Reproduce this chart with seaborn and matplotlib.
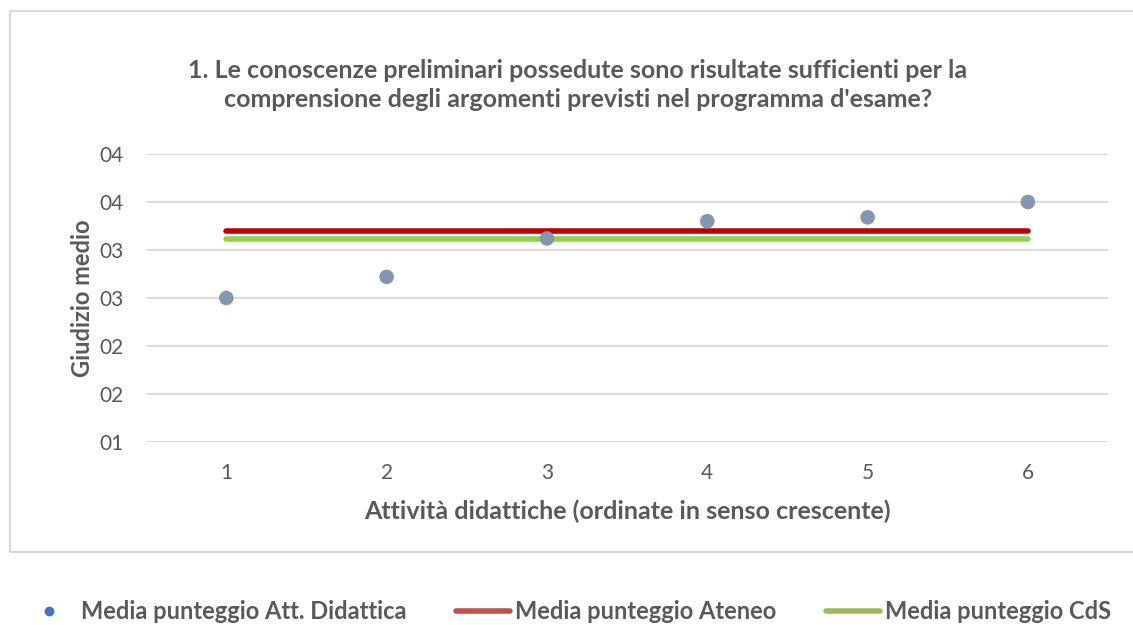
import pandas as pd
import matplotlib.pyplot as plt
import seaborn as sns
from matplotlib.lines import Line2D
from matplotlib.patches import Rectangle
from matplotlib.ticker import FuncFormatter

# dati
attivita = [1, 2, 3, 4, 5, 6]
media_att_didattica = [2.50, 2.72, 3.12, 3.30, 3.34, 3.50]
media_ateneo = [3.20, 3.20, 3.20, 3.20, 3.20, 3.20]
media_cds = [3.11, 3.11, 3.11, 3.11, 3.11, 3.11]
y_ticks = [1.0, 1.5, 2.0, 2.5, 3.0, 3.5, 4.0]

df = pd.DataFrame({"Attivita": attivita, "Didattica": media_att_didattica,
                   "Ateneo": media_ateneo, "CdS": media_cds})

sns.set_theme(style="white")
plt.rcParams["font.family"] = ["Lato", "DejaVu Sans"]
grigio = "#595959"

fig = plt.figure(figsize=(11.33, 6.25), dpi=100)
ax = fig.add_axes([0.129, 0.2928, 0.849, 0.4608])

sns.lineplot(x="Attivita", y="Ateneo", data=df, ax=ax, color="#C00000", linewidth=4,
             solid_capstyle="round", zorder=2)
sns.lineplot(x="Attivita", y="CdS", data=df, ax=ax, color="#92D050", linewidth=4,
             solid_capstyle="round", zorder=2)
sns.scatterplot(x="Attivita", y="Didattica", data=df, ax=ax, color="#8497B0", s=110,
                edgecolor="none", zorder=3)

ax.set_xlim(0.5, 6.5)
ax.set_ylim(1.0, 4.0)
ax.set_yticks(y_ticks)
ax.yaxis.set_major_formatter(FuncFormatter(lambda v, p: "%02d" % int(v + 0.5)))
ax.set_xticks(attivita)
ax.grid(axis="y", color="#D9D9D9", linewidth=1.3)
ax.set_axisbelow(True)
for s in ax.spines.values():
    s.set_visible(False)
ax.tick_params(axis="both", length=0, labelsize=15, labelcolor=grigio)
ax.tick_params(axis="x", pad=15)
ax.tick_params(axis="y", pad=16)

ax.set_xlabel("Attività didattiche (ordinate in senso crescente)", fontsize=18,
              fontweight="bold", color=grigio, labelpad=12)
ax.set_ylabel("Giudizio medio", fontsize=17, fontweight="bold", color=grigio, labelpad=4)

fig.text(0.51, 0.864, "1. Le conoscenze preliminari possedute sono risultate sufficienti per la\n"
         "comprensione degli argomenti previsti nel programma d'esame?",
         ha="center", va="center", fontsize=18, fontweight="bold", color=grigio,
         linespacing=1.35)

# cornice del grafico
fig.patches.append(Rectangle((0.009, 0.1168), 1.0, 0.8656, transform=fig.transFigure,
                             fill=False, edgecolor="#D9D9D9", linewidth=1.5))

handles = [
    Line2D([], [], marker="o", linestyle="none", color="#4472C4", markersize=6),
    Line2D([], [], color="#C0504D", linewidth=4),
    Line2D([], [], color="#9BBB59", linewidth=4),
]
labels = ["Media punteggio Att. Didattica", "Media punteggio Ateneo", "Media punteggio CdS"]
leg = fig.legend(handles, labels, loc="center", bbox_to_anchor=(0.5, 0.021), ncol=3,
                 frameon=False, fontsize=17, handlelength=2.3, handletextpad=0.2,
                 columnspacing=2.1)
for t in leg.get_texts():
    t.set_color(grigio)
    t.set_fontweight("bold")

fig.savefig("out.png", dpi=100, facecolor="white")
